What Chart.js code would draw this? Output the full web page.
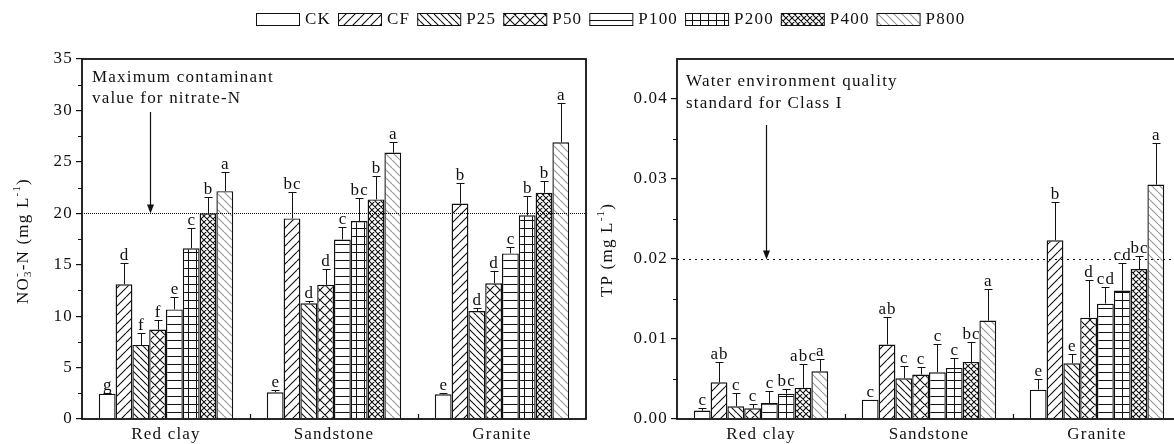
<!DOCTYPE html>
<html>
<head>
<meta charset="utf-8">
<script src="https://cdn.jsdelivr.net/npm/chart.js@4.4.1/dist/chart.umd.min.js"></script>
<style>
  html, body { margin: 0; padding: 0; background: #fff; overflow: hidden; }
  #wrap { position: relative; width: 1174px; height: 444px; }
  #c1 { position: absolute; left: 0; top: 0; }
  #c2 { position: absolute; left: 590px; top: 0; }
</style>
</head>
<body>
<div id="wrap">
  <canvas id="c1" width="1174" height="444"></canvas>
  <canvas id="c2" width="600" height="444"></canvas>
</div>
<script>
// categories and series
const soils = ['Red clay', 'Sandstone', 'Granite'];
const treatments = ['CK', 'CF', 'P25', 'P50', 'P100', 'P200', 'P400', 'P800'];

// NO3--N (mg L-1): one row per treatment, one value per soil
const no3Mean = [
  [2.46, 2.6, 2.4],
  [13.1, 19.5, 20.95],
  [7.2, 11.25, 10.5],
  [8.7, 13.05, 13.2],
  [10.65, 17.45, 16.1],
  [16.6, 19.25, 19.8],
  [20.0, 21.35, 22.0],
  [22.15, 25.9, 26.9]
];
const no3Sd = [
  [0.1, 0.2, 0.1],
  [2.1, 2.55, 2.0],
  [1.2, 0.25, 0.3],
  [0.9, 1.55, 1.15],
  [1.25, 1.25, 0.6],
  [2.0, 2.25, 1.9],
  [1.55, 2.25, 1.15],
  [1.85, 1.0, 3.85]
];
const no3Letters = [
  ['g', 'e', 'e'],
  ['d', 'bc', 'b'],
  ['f', 'd', 'd'],
  ['f', 'd', 'd'],
  ['e', 'c', 'c'],
  ['c', 'bc', 'b'],
  ['b', 'b', 'b'],
  ['a', 'a', 'a']
];
const no3Ticks = [0, 5, 10, 15, 20, 25, 30, 35];
const no3Max = 35;
const no3Limit = 20;

// TP (mg L-1)
const tpMean = [
  [0.00105, 0.00242, 0.00367],
  [0.00459, 0.0093, 0.02234],
  [0.00159, 0.00509, 0.00696],
  [0.00134, 0.00555, 0.01267],
  [0.0020, 0.00584, 0.01442],
  [0.00317, 0.00638, 0.01605],
  [0.0039, 0.00713, 0.01875],
  [0.00596, 0.0123, 0.0293]
];
const tpSd = [
  [0.00033, 0, 0.00138],
  [0.00254, 0.0035, 0.00483],
  [0.00166, 0.0015, 0.00121],
  [0.00054, 0.00091, 0.00467],
  [0.0015, 0.00358, 0.00208],
  [0.00063, 0.00121, 0.0035],
  [0.003, 0.0025, 0.00159],
  [0.0015, 0.00395, 0.00516]
];
const tpLetters = [
  ['c', 'c', 'e'],
  ['ab', 'ab', 'b'],
  ['c', 'c', 'e'],
  ['c', 'c', 'd'],
  ['c', 'c', 'cd'],
  ['bc', 'c', 'cd'],
  ['abc', 'bc', 'bc'],
  ['a', 'a', 'a']
];
const tpTicks = [0, 0.01, 0.02, 0.03, 0.04];
const tpMax = 0.045;
const tpLimit = 0.02;

const FAMILY = "'Liberation Serif', 'Times New Roman', serif";
const FONT = '17px ' + FAMILY;
const INK = '#111';

// hatch fills, one per treatment
function hatch(kind) {
  if (kind === 'none') return '#ffffff';
  const sizes = { fwd: 9, back: 7, cross: 10, hline: 8, grid: 8, dcross: 6, light: 8 };
  const s = sizes[kind];
  const c = document.createElement('canvas');
  c.width = s; c.height = s;
  const g = c.getContext('2d');
  g.fillStyle = '#fff';
  g.fillRect(0, 0, s, s);
  g.strokeStyle = kind === 'light' ? '#999' : '#111';
  g.fillStyle = '#111';
  g.lineWidth = 1.1;
  const fwd = () => { for (const k of [-s, 0, s]) { g.moveTo(k, s); g.lineTo(k + s, 0); } };
  const back = () => { for (const k of [-s, 0, s]) { g.moveTo(k, 0); g.lineTo(k + s, s); } };
  g.beginPath();
  if (kind === 'fwd') fwd();
  if (kind === 'back' || kind === 'light') back();
  if (kind === 'cross' || kind === 'dcross') { fwd(); back(); }
  g.stroke();
  if (kind === 'hline') g.fillRect(0, Math.floor(s / 2), s, 1);
  if (kind === 'grid') { g.fillRect(0, Math.floor(s / 2), s, 1); g.fillRect(Math.floor(s / 2), 0, 1, s); }
  return g.createPattern(c, 'repeat');
}
const fillKinds = ['none', 'fwd', 'back', 'cross', 'hline', 'grid', 'dcross', 'light'];
const fills = fillKinds.map(hatch);

// text with sub/superscripts, rotated for the y title
function drawYTitle(ctx, cx, cy, parts) {
  const big = FONT, small = '11px ' + FAMILY;
  ctx.save();
  ctx.translate(cx, cy);
  ctx.rotate(-Math.PI / 2);
  ctx.fillStyle = INK;
  ctx.textAlign = 'left';
  ctx.textBaseline = 'alphabetic';
  const widths = parts.map(p => {
    ctx.font = p.sub || p.sup ? small : big;
    return ctx.measureText(p.t).width;
  });
  let x = -widths.reduce((s, w) => s + w, 0) / 2;
  parts.forEach((p, i) => {
    ctx.font = p.sub || p.sup ? small : big;
    const dy = p.sub ? 9 : p.sup ? -2 : 6;
    ctx.fillText(p.t, x, dy);
    if (p.over) ctx.fillText(p.over, x, -2);
    x += widths[i];
  });
  ctx.restore();
}

function drawLegend(chart) {
  const ctx = chart.ctx;
  let x = 256;
  const y = 13;
  ctx.font = FONT;
  ctx.textAlign = 'left';
  ctx.textBaseline = 'middle';
  ctx.lineWidth = 1;
  ctx.strokeStyle = INK;
  chart.data.datasets.forEach(ds => {
    ctx.fillStyle = ds.backgroundColor;
    ctx.fillRect(x, y, 43, 12);
    ctx.strokeRect(x + 0.5, y + 0.5, 43, 12);
    x += 49;
    ctx.fillStyle = INK;
    ctx.fillText(ds.label, x, y + 7);
    x += ctx.measureText(ds.label).width + 7;
  });
}

const extras = {
  id: 'extras',
  beforeDraw(chart) { chart.ctx.letterSpacing = '1.2px'; },
  afterDraw(chart, args, o) {
    const ctx = chart.ctx, a = chart.chartArea;
    const xs = chart.scales.x, ys = chart.scales.y;
    ctx.save();
    ctx.letterSpacing = '1.2px';

    // error bars and significance letters
    ctx.strokeStyle = INK;
    ctx.fillStyle = INK;
    ctx.lineWidth = 1;
    ctx.font = FONT;
    ctx.textAlign = 'center';
    ctx.textBaseline = 'alphabetic';
    chart.data.datasets.forEach((ds, i) => {
      chart.getDatasetMeta(i).data.forEach((bar, j) => {
        const x = Math.round(bar.x) + 0.5;
        const top = ys.getPixelForValue(ds.data[j]);
        const end = ys.getPixelForValue(ds.data[j] + ds.sd[j]);
        if (ds.sd[j] > 0) {
          ctx.beginPath();
          ctx.moveTo(x, top);
          ctx.lineTo(x, Math.round(end) + 0.5);
          ctx.moveTo(x - 4, Math.round(end) + 0.5);
          ctx.lineTo(x + 4, Math.round(end) + 0.5);
          ctx.stroke();
        }
        ctx.fillText(ds.letters[j], bar.x + 0.6, end - 3);
      });
    });

    // limit line
    const yl = Math.round(ys.getPixelForValue(o.limit)) + 0.5;
    ctx.beginPath();
    ctx.setLineDash(o.dash);
    ctx.lineWidth = o.dashWidth;
    ctx.moveTo(a.left, yl);
    ctx.lineTo(a.right, yl);
    ctx.stroke();
    ctx.setLineDash([]);

    // arrow pointing to the limit
    const ax = a.left + o.arrowX + 0.5;
    ctx.lineWidth = 1.2;
    ctx.beginPath();
    ctx.moveTo(ax, a.top + o.arrowTop);
    ctx.lineTo(ax, yl - 6);
    ctx.stroke();
    ctx.beginPath();
    ctx.moveTo(ax - 3.5, yl - 9);
    ctx.lineTo(ax + 3.5, yl - 9);
    ctx.lineTo(ax, yl);
    ctx.closePath();
    ctx.fill();

    // note text
    ctx.textAlign = 'left';
    o.note.forEach((t, k) => ctx.fillText(t, a.left + o.noteX, a.top + o.noteY[k]));

    // minor y ticks
    ctx.lineWidth = 1.2;
    ctx.beginPath();
    for (let k = 0; k < o.ticks.length - 1; k++) {
      const y = Math.round(ys.getPixelForValue((o.ticks[k] + o.ticks[k + 1]) / 2)) + 0.5;
      ctx.moveTo(a.left - 4, y);
      ctx.lineTo(a.left, y);
    }
    // small inward ticks between soil groups
    for (let k = 0; k < soils.length - 1; k++) {
      const x = Math.round((xs.getPixelForValue(k) + xs.getPixelForValue(k + 1)) / 2) + 0.5;
      ctx.moveTo(x, a.bottom);
      ctx.lineTo(x, a.bottom - 5);
    }
    ctx.stroke();

    // frame
    ctx.lineWidth = 1.8;
    ctx.strokeRect(a.left, a.top, a.right - a.left, a.bottom - a.top);

    drawYTitle(ctx, a.left + o.titleDx, o.titleY, o.title);
    if (o.legend) drawLegend(chart);
    ctx.restore();
  }
};

function makeChart(canvasId, mean, sd, letters, ticks, max, fmt, axisWidth, padRight, notes) {
  const datasets = treatments.map((name, i) => ({
    label: name,
    data: mean[i],
    sd: sd[i],
    letters: letters[i],
    backgroundColor: fills[i],
    borderColor: INK,
    borderWidth: 1.4,
    categoryPercentage: 0.8,
    barPercentage: 1.0
  }));
  return new Chart(document.getElementById(canvasId), {
    type: 'bar',
    data: { labels: soils, datasets: datasets },
    options: {
      responsive: false,
      animation: false,
      layout: { padding: { left: 0, top: 59, right: padRight, bottom: 0 } },
      scales: {
        x: {
          offset: true,
          grid: { display: false, drawTicks: false },
          border: { display: false },
          ticks: { font: { family: FAMILY, size: 17 }, color: INK, padding: 5 },
          afterFit(s) { s.height = 25; }
        },
        y: {
          min: 0,
          max: max,
          afterBuildTicks(s) { s.ticks = ticks.map(v => ({ value: v })); },
          ticks: { font: { family: FAMILY, size: 17 }, color: INK, padding: 3, callback: fmt },
          grid: { drawOnChartArea: false, drawTicks: true, tickLength: 6, color: INK, lineWidth: 1.2 },
          border: { display: false },
          afterFit(s) { s.width = axisWidth; }
        }
      },
      plugins: {
        legend: { display: false },
        tooltip: { enabled: false },
        extras: Object.assign({ ticks: ticks }, notes)
      }
    },
    plugins: [extras]
  });
}

makeChart('c1', no3Mean, no3Sd, no3Letters, no3Ticks, no3Max, v => v, 82, 588, {
  limit: no3Limit,
  dash: [1, 1],
  dashWidth: 1,
  arrowX: 68,
  arrowTop: 53,
  note: ['Maximum contaminant', 'value for nitrate-N'],
  noteX: 10,
  noteY: [23, 44],
  titleDx: -60,
  titleY: 241,
  title: [{ t: 'NO' }, { t: '3', sub: true, over: '-' }, { t: '-N (mg L' }, { t: '-1', sup: true }, { t: ')' }],
  legend: true
});

makeChart('c2', tpMean, tpSd, tpLetters, tpTicks, tpMax, v => v.toFixed(2), 87, 9, {
  limit: tpLimit,
  dash: [2, 4],
  dashWidth: 1.2,
  arrowX: 89,
  arrowTop: 66,
  note: ['Water environment quality', 'standard for Class I'],
  noteX: 9,
  noteY: [27, 49],
  titleDx: -71,
  titleY: 250,
  title: [{ t: 'TP (mg L' }, { t: '-1', sup: true }, { t: ')' }],
  legend: false
});
</script>
</body>
</html>
